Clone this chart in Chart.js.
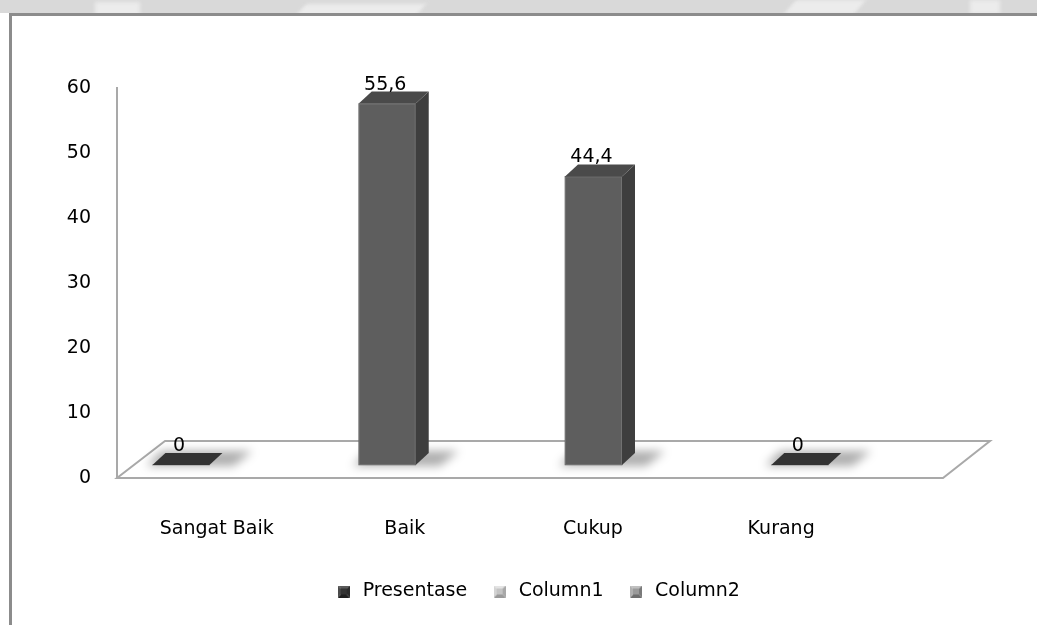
<!DOCTYPE html>
<html>
<head>
<meta charset="utf-8">
<script src="https://cdn.jsdelivr.net/npm/chart.js@4.4.1/dist/chart.umd.min.js"></script>
<style>
    html, body { margin: 0; padding: 0; background: #fff; }
    body { width: 1037px; height: 625px; position: relative; overflow: hidden; }
    #pita { position: absolute; left: 0; top: 0; width: 1037px; height: 13px; background: #d9d9d9; overflow: hidden; }
    #pita .noda { position: absolute; background: #ececec; filter: blur(2px); }
    #bingkai { position: absolute; left: 9px; top: 13px; right: 0; bottom: 0;
               border-top: 3px solid #8c8c8c; border-left: 3px solid #8c8c8c; }
    #grafikWrap { position: absolute; left: 0; top: 0; width: 1037px; height: 625px; }
</style>
</head>
<body>
<div id="pita">
    <div class="noda" style="left:95px; top:2px; width:45px; height:14px;"></div>
    <div class="noda" style="left:300px; top:4px; width:120px; height:14px; transform:skewX(-40deg);"></div>
    <div class="noda" style="left:790px; top:0; width:70px; height:14px; transform:skewX(-40deg);"></div>
    <div class="noda" style="left:970px; top:0; width:30px; height:14px;"></div>
</div>
<div id="bingkai"></div>
<div id="grafikWrap"><canvas id="grafikPresentase" width="1037" height="625"></canvas></div>
<script>
const kategori = ['Sangat Baik', 'Baik', 'Cukup', 'Kurang'];
const presentase = [0, 55.6, 44.4, 0];
const column1 = [];
const column2 = [];
const yTicks = [0, 10, 20, 30, 40, 50, 60];

const FONT = { family: '"DejaVu Sans", sans-serif', size: 19 };

// kedalaman kotak 3D (geser ke kanan-atas)
const DX = 13, DY = -12;

// penanda legenda berbentuk kotak timbul
function penanda(atas, kanan, bawah, kiri, tengah) {
    const c = document.createElement('canvas');
    c.width = 12; c.height = 12;
    const g = c.getContext('2d');
    const poly = (pts, col) => {
        g.beginPath();
        g.moveTo(pts[0][0], pts[0][1]);
        pts.slice(1).forEach(p => g.lineTo(p[0], p[1]));
        g.closePath();
        g.fillStyle = col;
        g.fill();
    };
    poly([[0, 0], [12, 0], [9, 3], [3, 3]], atas);
    poly([[12, 0], [12, 12], [9, 9], [9, 3]], kanan);
    poly([[12, 12], [0, 12], [3, 9], [9, 9]], bawah);
    poly([[0, 12], [0, 0], [3, 3], [3, 9]], kiri);
    g.fillStyle = tengah;
    g.fillRect(3, 3, 6, 6);
    return c;
}

const penandaLegenda = [
    penanda('#5a5a5a', '#2a2a2a', '#1e1e1e', '#4a4a4a', '#333333'),
    penanda('#e4e4e4', '#a8a8a8', '#9a9a9a', '#d4d4d4', '#c4c4c4'),
    penanda('#c0c0c0', '#7a7a7a', '#6e6e6e', '#b0b0b0', '#9a9a9a')
];

const efek3d = {
    id: 'efek3d',
    beforeDatasetsDraw(chart) {
        const { ctx, chartArea, scales } = chart;
        const y0 = scales.y.getPixelForValue(0);
        const kiri = chartArea.left;

        // lantai
        ctx.save();
        ctx.beginPath();
        ctx.moveTo(kiri, y0);
        ctx.lineTo(kiri + 826, y0);
        ctx.lineTo(kiri + 873, y0 - 37);
        ctx.lineTo(kiri + 48, y0 - 37);
        ctx.closePath();
        ctx.strokeStyle = '#a9a9a9';
        ctx.lineWidth = 2;
        ctx.stroke();

        // bayangan di lantai
        ctx.filter = 'blur(5px)';
        ctx.fillStyle = 'rgba(0,0,0,0.32)';
        chart.getDatasetMeta(0).data.forEach(bar => {
            const x0 = bar.x - bar.width / 2;
            const x1 = bar.x + bar.width / 2;
            const b = bar.base;
            ctx.beginPath();
            ctx.moveTo(x0 - 6, b + 1);
            ctx.lineTo(x1 + 24, b + 1);
            ctx.lineTo(x1 + DX + 30, b + DY - 2);
            ctx.lineTo(x0 + DX - 4, b + DY - 2);
            ctx.closePath();
            ctx.fill();
        });
        ctx.restore();
    },
    afterDatasetsDraw(chart) {
        const { ctx } = chart;
        const meta = chart.getDatasetMeta(0);
        ctx.save();
        meta.data.forEach((bar, i) => {
            const x0 = bar.x - bar.width / 2;
            const x1 = bar.x + bar.width / 2;
            const top = bar.y;
            const b = bar.base;
            const datar = Math.abs(b - top) < 1;

            if (!datar) {
                // sisi kanan
                ctx.beginPath();
                ctx.moveTo(x1, top);
                ctx.lineTo(x1 + DX, top + DY);
                ctx.lineTo(x1 + DX, b + DY);
                ctx.lineTo(x1, b);
                ctx.closePath();
                ctx.fillStyle = '#3e3e3e';
                ctx.fill();
                // tepi depan sedikit terang
                ctx.strokeStyle = 'rgba(255,255,255,0.12)';
                ctx.lineWidth = 1;
                ctx.strokeRect(x0 + 0.5, top + 0.5, bar.width - 1, b - top - 1);
            }
            // sisi atas
            ctx.beginPath();
            ctx.moveTo(x0, top);
            ctx.lineTo(x1, top);
            ctx.lineTo(x1 + DX, top + DY);
            ctx.lineTo(x0 + DX, top + DY);
            ctx.closePath();
            ctx.fillStyle = datar ? '#333333' : '#4a4a4a';
            ctx.fill();

            // label nilai
            ctx.font = `${FONT.size}px ${FONT.family}`;
            ctx.fillStyle = '#000';
            ctx.textAlign = 'center';
            ctx.textBaseline = 'alphabetic';
            ctx.fillText(String(presentase[i]).replace('.', ','), bar.x - 2, top - 14);
        });
        ctx.restore();
    }
};

new Chart(document.getElementById('grafikPresentase'), {
    type: 'bar',
    data: {
        datasets: [
            {
                label: 'Presentase',
                data: presentase.map((v, i) => ({ x: i, y: v })),
                backgroundColor: '#5e5e5e',
                xAxisID: 'xb',
                yAxisID: 'yb',
                barThickness: 57,
                grouped: false
            },
            {
                label: 'Column1',
                data: column1,
                backgroundColor: '#c4c4c4',
                xAxisID: 'xb',
                yAxisID: 'yb',
                grouped: false
            },
            {
                label: 'Column2',
                data: column2,
                backgroundColor: '#9a9a9a',
                xAxisID: 'xb',
                yAxisID: 'yb',
                grouped: false
            }
        ]
    },
    options: {
        responsive: false,
        animation: false,
        layout: { padding: { left: 37, right: 0, top: 88, bottom: 14 } },
        scales: {
            x: {
                type: 'linear',
                position: 'bottom',
                offset: false,
                min: -0.53,
                max: 4.36,
                afterBuildTicks: s => { s.ticks = kategori.map((k, i) => ({ value: i })); },
                afterFit: s => { s.height = 81; },
                ticks: {
                    callback: v => kategori[v],
                    padding: 40,
                    color: '#000',
                    font: FONT,
                    maxRotation: 0,
                    autoSkip: false
                },
                grid: { display: false, drawTicks: false, offset: false },
                border: { display: false }
            },
            xb: {
                type: 'linear',
                display: false,
                offset: false,
                grid: { offset: false },
                min: -0.31,
                max: 4.15
            },
            y: {
                position: 'left',
                min: 0,
                max: 60,
                afterBuildTicks: s => { s.ticks = yTicks.map(v => ({ value: v })); },
                afterFit: s => { s.width = 80; },
                ticks: { padding: 26, color: '#000', font: FONT },
                grid: { display: false, drawTicks: false },
                border: { display: true, color: '#a9a9a9', width: 2 }
            },
            yb: {
                display: false,
                min: -2,
                max: 58
            }
        },
        plugins: {
            legend: {
                position: 'bottom',
                labels: {
                    usePointStyle: true,
                    padding: 23,
                    color: '#000',
                    font: FONT,
                    generateLabels(chart) {
                        const items = Chart.defaults.plugins.legend.labels.generateLabels(chart);
                        items.forEach((it, i) => { it.pointStyle = penandaLegenda[i]; });
                        return items;
                    }
                }
            },
            tooltip: { enabled: false }
        }
    },
    plugins: [efek3d]
});
</script>
</body>
</html>
